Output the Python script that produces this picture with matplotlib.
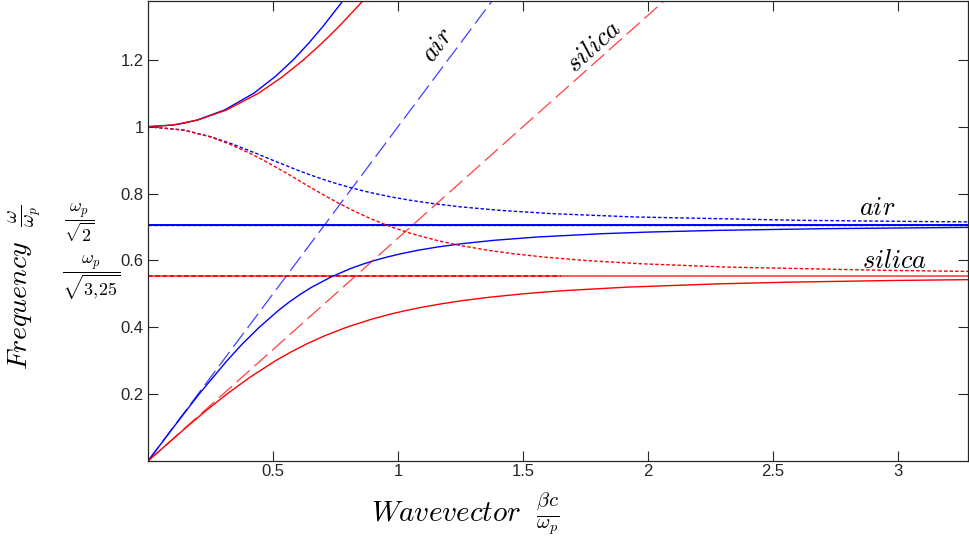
import matplotlib
matplotlib.use('Agg')
import matplotlib.pyplot as plt

plt.rcParams['mathtext.fontset'] = 'cm'
plt.rcParams['font.family'] = ['Liberation Sans Narrow', 'Liberation Sans']

# surface plasmon, air (lower branch)
air_sp_k = [0, 0.101, 0.204, 0.316, 0.377, 0.445, 0.521, 0.564, 0.612, 0.655, 0.731, 0.808,
            0.826, 0.864, 0.907, 0.956, 1.012, 1.077, 1.157, 1.255, 1.382, 1.556, 1.818,
            2.011, 2.284, 2.71, 3.31]
air_sp_w = [0, 0.1, 0.2, 0.3, 0.35, 0.4, 0.45, 0.475, 0.5, 0.52, 0.55, 0.575,
            0.58, 0.59, 0.6, 0.61, 0.62, 0.63, 0.64, 0.65, 0.66, 0.67, 0.68,
            0.685, 0.69, 0.695, 0.699]

# surface plasmon, silica (lower branch)
sil_sp_k = [0, 0.152, 0.231, 0.315, 0.407, 0.510, 0.569, 0.634, 0.708, 0.794, 0.898, 0.973,
            1.031, 1.096, 1.172, 1.260, 1.367, 1.5, 1.580, 1.673, 1.914, 2.285, 2.567,
            2.98, 3.345]
sil_sp_w = [0, 0.1, 0.15, 0.2, 0.25, 0.3, 0.325, 0.35, 0.375, 0.4, 0.425, 0.44,
            0.45, 0.46, 0.47, 0.48, 0.49, 0.5, 0.505, 0.51, 0.52, 0.53, 0.535,
            0.54, 0.543]

# upper branches (above plasma frequency)
air_up_k = [0, 0.0995, 0.140, 0.197, 0.306, 0.423, 0.509, 0.581, 0.643, 0.700, 0.779, 0.803]
air_up_w = [1, 1.005, 1.01, 1.02, 1.05, 1.1, 1.15, 1.2, 1.25, 1.3, 1.376, 1.4]
sil_up_k = [0, 0.0998, 0.199, 0.314, 0.442, 0.539, 0.622, 0.696, 0.764, 0.859, 0.888]
sil_up_w = [1, 1.005, 1.02, 1.05, 1.1, 1.15, 1.2, 1.25, 1.3, 1.376, 1.4]

# |beta| between omega_sp and omega_p (dotted)
air_im_k = [0, 0.1425, 0.251, 0.331, 0.433, 0.498, 0.598, 0.634, 0.671, 0.711, 0.753,
            0.799, 0.850, 0.907, 0.972, 1.048, 1.140, 1.254, 1.403, 1.613, 1.945,
            2.605, 3.14, 3.57]
air_im_w = [1, 0.99, 0.97, 0.95, 0.92, 0.9, 0.87, 0.86, 0.85, 0.84, 0.83,
            0.82, 0.81, 0.8, 0.79, 0.78, 0.77, 0.76, 0.75, 0.74, 0.73,
            0.72, 0.716, 0.714]
sil_im_k = [0, 0.142, 0.247, 0.320, 0.409, 0.461, 0.533, 0.579, 0.635, 0.693, 0.753,
            0.818, 0.890, 0.974, 1.055, 1.154, 1.246, 1.363, 1.461, 1.585, 1.746,
            1.972, 2.32, 2.97, 3.3]
sil_im_w = [1, 0.99, 0.97, 0.95, 0.92, 0.9, 0.87, 0.85, 0.825, 0.8, 0.775,
            0.75, 0.725, 0.7, 0.68, 0.66, 0.645, 0.63, 0.62, 0.61, 0.6,
            0.59, 0.58, 0.57, 0.567]

# light lines
air_ll_k = [0, 1.4]
air_ll_w = [0, 1.4]
sil_ll_k = [0, 2.1]
sil_ll_w = [0, 1.4]

# asymptotes omega_p/sqrt(2), omega_p/sqrt(3.25)
air_asym = 0.7071
sil_asym = 0.5547
asym_k = [0, 3.3]
sil_asym_dot_k = [0, 1.65]

xticks = [0.5, 1, 1.5, 2, 2.5, 3]
xticklabels = ['0.5', '1', '1.5', '2', '2.5', '3']
yticks = [0.2, 0.4, 0.6, 0.8, 1, 1.2]
yticklabels = ['0.2', '0.4', '0.6', '0.8', '1', '1.2']

fig = plt.figure(figsize=(9.69, 5.39), dpi=100)
ax = fig.add_axes([148 / 969, 78 / 539, 820 / 969, 460 / 539])

blue = '#0000ff'
red = '#ff0000'
dot = (0, (2.5, 1.5))
dash = (0, (14, 5))

ax.plot(asym_k, [air_asym] * 2, color=blue, lw=1.4)
ax.plot(asym_k, [air_asym] * 2, color=blue, lw=1.0, ls=dot)
ax.plot(asym_k, [sil_asym] * 2, color=red, lw=1.1, alpha=0.8)
ax.plot(sil_asym_dot_k, [sil_asym] * 2, color=red, lw=1.3, ls=dot)

ax.plot(air_sp_k, air_sp_w, color=blue, lw=1.0)
ax.plot(sil_sp_k, sil_sp_w, color=red, lw=1.0)
ax.plot(air_up_k, air_up_w, color=blue, lw=1.0)
ax.plot(sil_up_k, sil_up_w, color=red, lw=1.0)
ax.plot(air_im_k, air_im_w, color=blue, lw=1.0, ls=dot)
ax.plot(sil_im_k, sil_im_w, color=red, lw=1.0, ls=dot)
ax.plot(air_ll_k, air_ll_w, color=blue, lw=0.9, ls=dash, alpha=0.75)
ax.plot(sil_ll_k, sil_ll_w, color=red, lw=0.9, ls=dash, alpha=0.75)

ax.set_xlim(0, 3.28)
ax.set_ylim(0, 1.376)
ax.set_xticks(xticks)
ax.set_xticklabels(xticklabels)
ax.set_yticks(yticks)
ax.set_yticklabels(yticklabels)
ax.tick_params(direction='in', length=7, width=0.8, top=True, right=True,
               labelsize=12, colors='#262626')
ax.tick_params(axis='x', pad=2)
ax.tick_params(axis='y', pad=3)
for s in ax.spines.values():
    s.set_linewidth(0.9)
    s.set_color('#262626')

tsize = 19
ax.text(1.16, 1.245, r'$air$', rotation=53, fontsize=tsize, ha='center', va='center')
ax.text(1.784, 1.239, r'$silica$', rotation=42, fontsize=tsize, ha='center', va='center')
ax.text(2.916, 0.737, r'$air$', fontsize=tsize, ha='center', va='baseline')
ax.text(2.984, 0.576, r'$silica$', fontsize=tsize, ha='center', va='baseline')

fig.text(64 / 969, 1 - 223 / 539, r'$\dfrac{\omega_p}{\sqrt{2}}$', fontsize=13,
         ha='left', va='center')
fig.text(62 / 969, 1 - 278 / 539, r'$\dfrac{\omega_p}{\sqrt{3,\!25}}$', fontsize=13,
         ha='left', va='center')

xl = ax.set_xlabel(r'$Wavevector\ \ \frac{\beta c}{\omega_p}$', fontsize=21)
xl.set_va('center')
ax.xaxis.set_label_coords(0.387, -0.115)
yl = ax.set_ylabel(r'$Frequency\ \ \frac{\omega}{\omega_p}$', fontsize=20)
yl.set_va('center')
ax.yaxis.set_label_coords(-0.15, 0.377)

fig.savefig('out.png', dpi=100)
